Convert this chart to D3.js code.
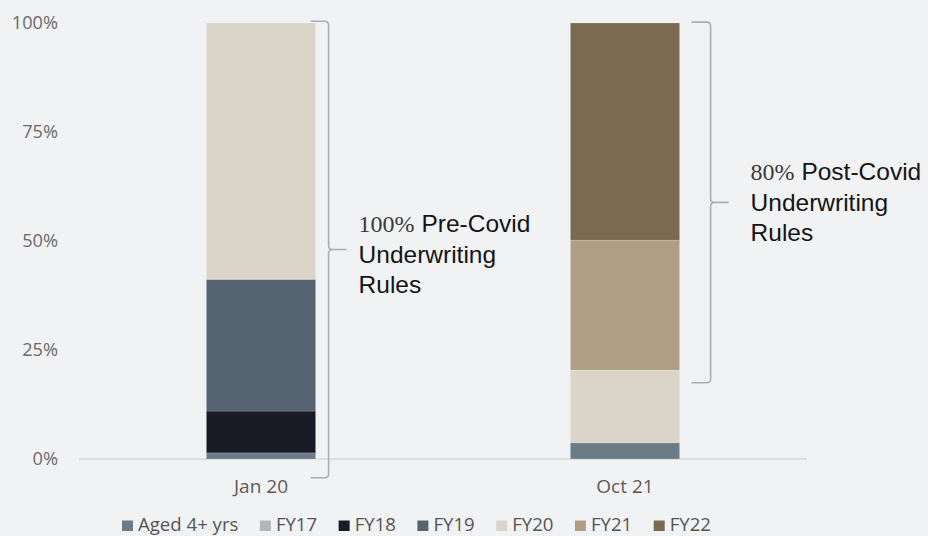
<!DOCTYPE html>
<html>
<head>
<meta charset="utf-8">
<script src="https://cdn.jsdelivr.net/npm/d3@7"></script>
<style>
  html, body { margin: 0; padding: 0; background: #f1f2f4; }
  svg { display: block; }
</style>
</head>
<body>
<div id="chart"></div>
<script>
// Loan book composition by origination vintage (share of balance, %)
const periods = ["Jan 20", "Oct 21"];
const seriesNames = ["Aged 4+ yrs", "FY17", "FY18", "FY19", "FY20", "FY21", "FY22"];
const seriesColors = ["#6b7c87", "#b4b5b6", "#1b1b27", "#556470", "#dbd4c9", "#b09e84", "#7b6a50"];
const agedValues = [1.4, 3.7];
const fy17Values = [0, 0];
const fy18Values = [9.6, 0];
const fy19Values = [30.2, 0];
const fy20Values = [58.8, 16.7];
const fy21Values = [0, 29.8];
const fy22Values = [0, 49.8];
const yTicks = [0, 25, 50, 75, 100];

// Bracket annotations: span in % units, label lines
const noteTop = [100.4, 100.2];
const noteBottom = [-4.3, 17.5];
const notePct = ["100%", "80%"];
const noteText = [["Pre-Covid", "Underwriting", "Rules"], ["Post-Covid", "Underwriting", "Rules"]];

const W = 928, H = 536;
const svg = d3.select("#chart").append("svg").attr("width", W).attr("height", H);
svg.append("rect").attr("width", W).attr("height", H).attr("fill", "#f1f2f4");

const x = d3.scaleBand().domain(periods).range([79, 807]).paddingInner(0.7).paddingOuter(0.35);
const y = d3.scaleLinear().domain([0, 100]).range([459, 23]);

const allValues = [agedValues, fy17Values, fy18Values, fy19Values, fy20Values, fy21Values, fy22Values];
const table = periods.map((p, i) => {
  const row = { period: p };
  seriesNames.forEach((s, k) => row[s] = allValues[k][i]);
  return row;
});
const stacked = d3.stack().keys(seriesNames)(table);
const color = d3.scaleOrdinal().domain(seriesNames).range(seriesColors);

// baseline
svg.append("line")
  .attr("x1", x.range()[0]).attr("x2", x.range()[1])
  .attr("y1", y(0)).attr("y2", y(0))
  .attr("stroke", "#dcdfe2").attr("stroke-width", 2);

// stacked bars
svg.append("g").selectAll("g").data(stacked).join("g")
  .attr("fill", d => color(d.key))
  .selectAll("rect").data(d => d.filter(v => v[1] - v[0] > 0)).join("rect")
  .attr("x", d => x(d.data.period))
  .attr("width", x.bandwidth())
  .attr("y", d => y(d[1]))
  .attr("height", d => y(d[0]) - y(d[1]))
  .attr("stroke", "rgba(255,255,255,0.25)")
  .attr("stroke-width", 0.6);

// y axis labels
const yAxis = svg.append("g").attr("transform", "translate(58,0)")
  .call(d3.axisLeft(y).tickValues(yTicks).tickFormat(d => d + "%").tickSize(0).tickPadding(0));
yAxis.select(".domain").remove();
yAxis.selectAll("text")
  .attr("font-family", "'Open Sans', sans-serif").attr("font-size", 18.2)
  .attr("fill", "#6a6a6a");

// x axis labels
const xAxis = svg.append("g").attr("transform", `translate(0,${y(0)})`)
  .call(d3.axisBottom(x).tickSize(0).tickPadding(21));
xAxis.select(".domain").remove();
xAxis.selectAll("text")
  .attr("font-family", "'Open Sans', sans-serif").attr("font-size", 19)
  .attr("fill", "#5a5a5a");

// bracket annotations
const armStart = [-5, 12];
const armV = [13, 31];
const textDx = [43, 71];
const textBase = [232, 180];
periods.forEach((p, i) => {
  const right = x(p) + x.bandwidth();
  const x0 = right + armStart[i], xv = right + armV[i], xt = xv + 18;
  const top = y(noteTop[i]), bot = y(noteBottom[i]), mid = (top + bot) / 2;
  const r = 4;
  const path = d3.path();
  path.moveTo(x0, top);
  path.lineTo(xv - r, top);
  path.quadraticCurveTo(xv, top, xv, top + r);
  path.lineTo(xv, mid - r);
  path.quadraticCurveTo(xv, mid, xv + r, mid);
  path.lineTo(xt, mid);
  path.moveTo(xv + r, mid);
  path.quadraticCurveTo(xv, mid, xv, mid + r);
  path.lineTo(xv, bot - r);
  path.quadraticCurveTo(xv, bot, xv - r, bot);
  path.lineTo(x0, bot);
  svg.append("path").attr("d", path.toString())
    .attr("fill", "none").attr("stroke", "#a9aeb3").attr("stroke-width", 1.6);

  const t = svg.append("text")
    .attr("x", right + textDx[i]).attr("y", textBase[i])
    .attr("font-family", "'Liberation Sans', Arial, sans-serif").attr("font-size", 24.5)
    .attr("fill", "#141414");
  noteText[i].forEach((line, j) => {
    const ts = t.append("tspan").attr("x", right + textDx[i]).attr("dy", j === 0 ? 0 : 30.7);
    if (j === 0) {
      ts.append("tspan").text(notePct[i])
        .attr("font-family", "'Liberation Serif', 'Times New Roman', serif")
        .attr("font-size", 24).attr("fill", "#3a3a3a");
      ts.append("tspan").text(" " + line);
    } else {
      ts.text(line);
    }
  });
});

// legend
const legend = svg.append("g").attr("transform", "translate(122,531)");
let lx = 0;
seriesNames.forEach((s, k) => {
  const g = legend.append("g").attr("transform", `translate(${lx},0)`);
  g.append("rect").attr("x", 0).attr("y", -10.5).attr("width", 11).attr("height", 10.5)
    .attr("fill", seriesColors[k]);
  const txt = g.append("text").attr("x", 16).attr("y", 0)
    .attr("font-family", "'Open Sans', sans-serif").attr("font-size", 18.6)
    .attr("fill", "#555").text(s);
  lx += 16 + txt.node().getComputedTextLength() + 21.5;
});
</script>
</body>
</html>
